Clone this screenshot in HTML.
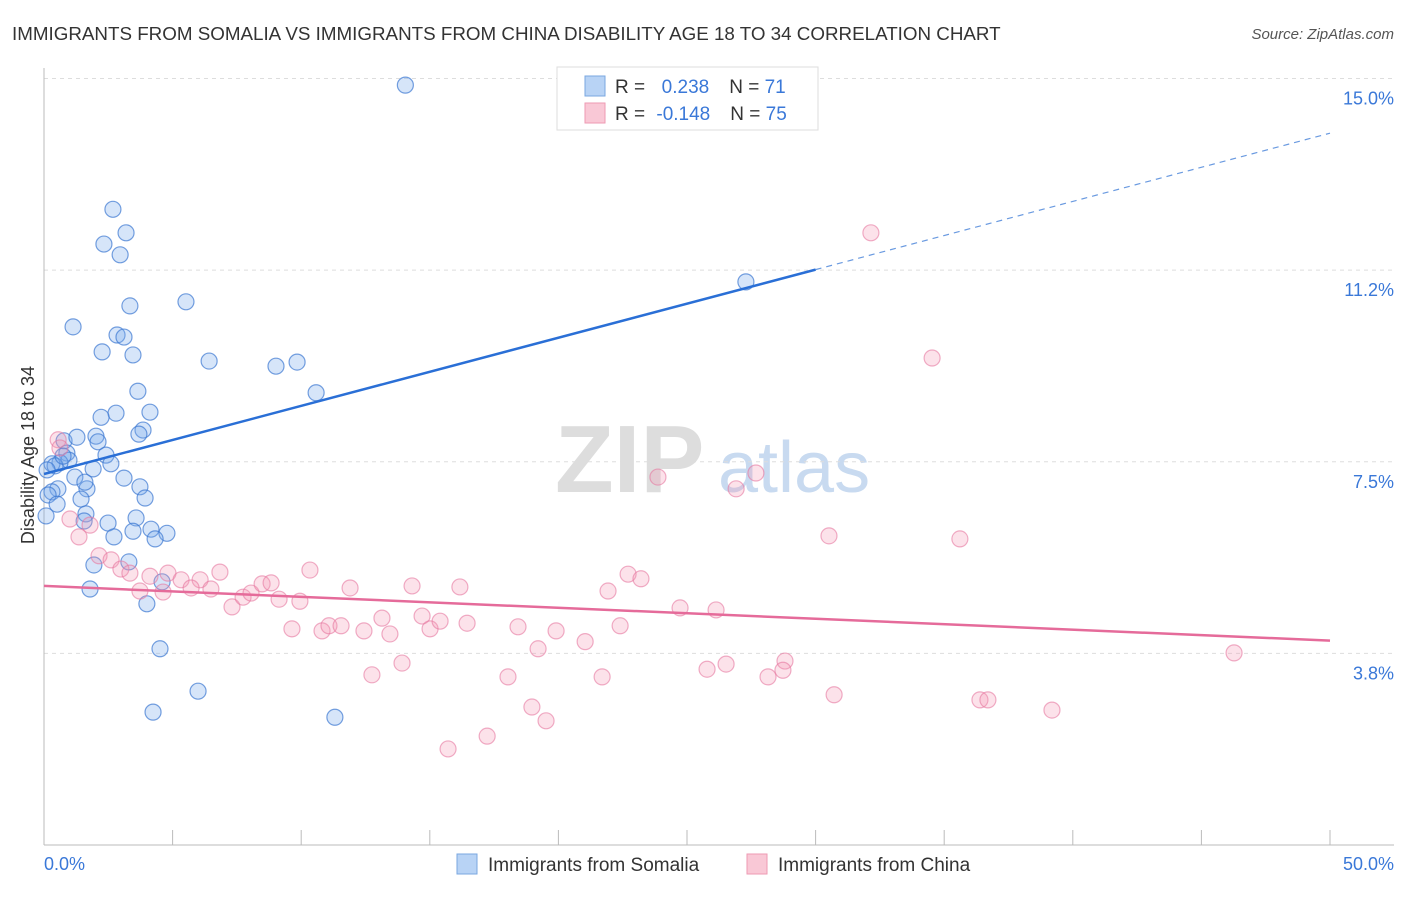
<!DOCTYPE html>
<html><head><meta charset="utf-8"><style>
body{margin:0;background:#fff;font-family:"Liberation Sans",sans-serif;}
svg text{font-family:"Liberation Sans",sans-serif;}
</style></head><body>
<svg id="chart" width="1406" height="892">
<text x="12" y="40" font-size="18.8" fill="#333">IMMIGRANTS FROM SOMALIA VS IMMIGRANTS FROM CHINA DISABILITY AGE 18 TO 34 CORRELATION CHART</text>
<text x="1394" y="39" font-size="15" fill="#555" font-style="italic" text-anchor="end">Source: ZipAtlas.com</text>
<text x="555" y="492" font-size="96" fill="#ddd" font-family="Liberation Serif" font-weight="bold">ZIP</text>
<text x="718" y="492" font-size="72" fill="#c8daf0">atlas</text>
<g id="grid"></g><g id="axes"></g><g id="pts"></g><g id="lines"></g>
<text transform="translate(34,455) rotate(-90)" font-size="18" fill="#333" text-anchor="middle">Disability Age 18 to 34</text>
<text x="44" y="870" font-size="18" fill="#3a78d8">0.0%</text>
<text x="1394" y="870" font-size="18" fill="#3a78d8" text-anchor="end">50.0%</text>
<g>
<rect x="557" y="67" width="261" height="63" fill="#fff" stroke="#ddd"/>
<rect x="585" y="76" width="20" height="20" fill="#b8d3f5" stroke="#7aa7e0"/>
<rect x="585" y="103" width="20" height="20" fill="#f9c8d6" stroke="#ee9ab3"/>
<text x="615" y="93" font-size="19" fill="#333">R = <tspan fill="#3a78d8" dx="6">&#160;0.238</tspan><tspan dx="20">N = </tspan><tspan fill="#3a78d8">71</tspan></text>
<text x="615" y="120" font-size="19" fill="#333">R = <tspan fill="#3a78d8" dx="6">-0.148</tspan><tspan dx="20">N = </tspan><tspan fill="#3a78d8">75</tspan></text>
</g>
<g>
<rect x="457" y="854" width="20" height="20" fill="#b8d3f5" stroke="#7aa7e0"/>
<text x="488" y="871" font-size="19" fill="#333">Immigrants from Somalia</text>
<rect x="747" y="854" width="20" height="20" fill="#f9c8d6" stroke="#ee9ab3"/>
<text x="778" y="871" font-size="19" fill="#333">Immigrants from China</text>
</g>
</svg>
<script>
const yTicks=[15.0,11.25,7.5,3.75];
const yTickLabels=["15.0%","11.2%","7.5%","3.8%"];
const xTicks=[0,5,10,15,20,25,30,35,40,45,50];
const somaliaX=[14.05,2.68,3.19,2.33,2.96,27.29,5.52,3.34,1.13,2.84,3.11,2.26,3.46,6.42,9.02,9.84,10.58,3.65,4.12,2.80,2.22,3.85,3.69,0.78,1.28,2.02,2.10,0.89,2.41,0.97,0.62,0.31,2.60,1.91,3.11,1.20,3.73,0.54,1.67,0.31,0.16,1.44,3.93,0.51,1.63,1.56,2.49,0.08,3.58,4.16,3.46,4.78,2.72,4.32,3.30,1.94,4.59,1.79,4.00,4.51,5.99,4.24,11.31,0.43,0.74,0.12,1.59];
const somaliaY=[14.87,12.44,11.98,11.76,11.55,11.02,10.63,10.55,10.14,9.98,9.94,9.65,9.59,9.47,9.37,9.45,8.85,8.88,8.47,8.45,8.37,8.12,8.04,7.91,7.98,8.00,7.89,7.67,7.63,7.53,7.48,7.46,7.46,7.36,7.18,7.20,7.01,6.97,6.97,6.91,6.85,6.77,6.79,6.67,6.48,6.34,6.30,6.44,6.40,6.18,6.14,6.10,6.03,5.99,5.54,5.48,5.15,5.01,4.72,3.84,3.01,2.60,2.50,7.42,7.61,7.34,7.10];
const chinaX=[32.15,34.53,23.87,27.68,26.91,30.52,35.61,1.36,1.01,1.79,2.14,2.61,2.99,3.34,4.12,4.82,5.33,6.07,5.72,3.73,4.63,6.49,6.84,7.31,7.74,8.05,8.48,8.83,9.14,9.95,10.34,11.90,14.31,16.17,9.64,10.81,11.08,11.55,12.44,13.14,13.45,14.70,15.01,15.40,16.45,18.43,19.91,21.93,22.71,23.21,22.40,21.04,19.21,24.73,26.13,13.92,12.75,18.04,21.70,25.78,26.52,28.81,28.73,28.15,30.72,46.27,36.39,36.70,39.19,18.97,19.52,17.23,15.71,0.55,0.62];
const chinaY=[11.98,9.53,7.20,7.28,6.97,6.05,5.99,6.03,6.38,6.26,5.66,5.58,5.40,5.32,5.26,5.32,5.19,5.19,5.03,4.97,4.95,5.01,5.34,4.66,4.85,4.93,5.11,5.13,4.81,4.77,5.38,5.03,5.07,5.05,4.23,4.19,4.29,4.29,4.19,4.44,4.13,4.48,4.23,4.38,4.34,4.27,4.19,4.97,5.30,5.21,4.29,3.98,3.84,4.64,4.60,3.56,3.33,3.29,3.29,3.44,3.54,3.60,3.42,3.29,2.94,3.76,2.84,2.84,2.64,2.70,2.43,2.13,1.88,7.93,7.77];
const blueLine=[[0,7.26],[30,11.26],[50,13.93]];
const pinkLine=[[0,5.07],[50,4.00]];
const X=v=>44+v*25.72, Y=v=>845-v*51.1;
const NS="http://www.w3.org/2000/svg";
function mk(t,a,p){const e=document.createElementNS(NS,t);for(const k in a)e.setAttribute(k,a[k]);document.getElementById(p).appendChild(e);return e;}
yTicks.forEach((t,i)=>{
 const l=mk('line',{x1:44,x2:1394,y1:Y(t),y2:Y(t),stroke:'#ddd','stroke-dasharray':'4,4'},'grid');
 
 
 const tx=mk('text',{x:1394,y:Y(t)+26,'font-size':18,fill:'#3a78d8','text-anchor':'end'},'grid');
 tx.textContent=yTickLabels[i];
 
 
});
const ya=mk('line',{x1:44,x2:44,y1:68,y2:845,stroke:'#bbb'},'axes');


const xa=mk('line',{x1:44,x2:1394,y1:845,y2:845,stroke:'#bbb'},'axes');


xTicks.forEach(t=>{
 const l=mk('line',{x1:X(t),x2:X(t),y1:830,y2:845,stroke:'#bbb'},'axes');
 
 
});
somaliaX.forEach((v,i)=>{
 const c=mk('circle',{cx:X(v),cy:Y(somaliaY[i]),r:8,fill:'rgba(120,170,235,0.3)',stroke:'rgba(60,120,210,0.7)','stroke-width':1.2},'pts');
 
 
});
chinaX.forEach((v,i)=>{
 const c=mk('circle',{cx:X(v),cy:Y(chinaY[i]),r:8,fill:'rgba(245,150,180,0.28)',stroke:'rgba(230,120,160,0.6)','stroke-width':1.2},'pts');
 
 
});
const b1=mk('line',{x1:X(blueLine[0][0]),y1:Y(blueLine[0][1]),x2:X(blueLine[1][0]),y2:Y(blueLine[1][1]),stroke:'#2a6fd6','stroke-width':2.5},'lines');


const b2=mk('line',{x1:X(blueLine[1][0]),y1:Y(blueLine[1][1]),x2:X(blueLine[2][0]),y2:Y(blueLine[2][1]),stroke:'#6a9ae0','stroke-width':1.2,'stroke-dasharray':'6,5'},'lines');


const p1=mk('line',{x1:X(pinkLine[0][0]),y1:Y(pinkLine[0][1]),x2:X(pinkLine[1][0]),y2:Y(pinkLine[1][1]),stroke:'#e56b9a','stroke-width':2.5},'lines');


</script>
</body></html>
